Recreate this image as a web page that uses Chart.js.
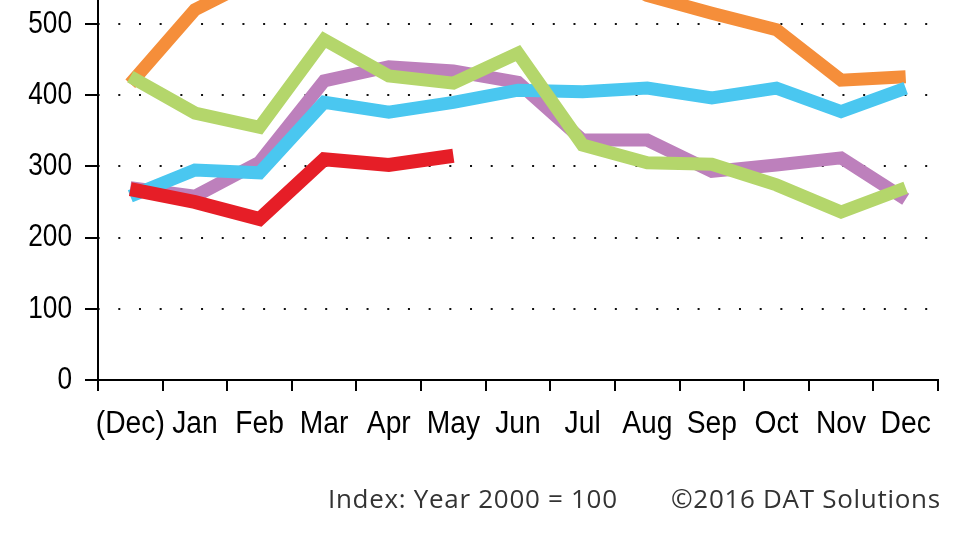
<!DOCTYPE html>
<html><head><meta charset="utf-8">
<script src="https://cdn.jsdelivr.net/npm/chart.js@4"></script>
<style>
html,body{margin:0;padding:0;background:#fff;}
#wrap{position:relative;width:980px;height:552px;overflow:hidden;background:#fff;}
#c{position:absolute;left:0;top:0;}
.note{position:absolute;top:485px;font-family:'Open Sans','Noto Sans',sans-serif;font-size:26px;color:#333;letter-spacing:0.7px;white-space:nowrap;line-height:26px;}
</style></head><body>
<div id="wrap"><canvas id="c" width="980" height="552"></canvas>
<div class="note" style="left:328px">Index: Year 2000 = 100</div>
<div class="note" style="left:671px">©2016 DAT Solutions</div>
</div>
<script>
const categories = ['(Dec)','Jan','Feb','Mar','Apr','May','Jun','Jul','Aug','Sep','Oct','Nov','Dec'];
const yTicks = [0, 100, 200, 300, 400, 500];
const seriesOrange = [416, 520, 566, 600, 620, 610, 625, 590, 540, 515, 492, 421, 426];
const seriesPurple = [270, 258, 306, 420, 440, 434, 418, 337, 337, 293, 302, 312, 254];
const seriesBlue   = [258, 295, 291, 390, 376, 390, 407, 405, 410, 396, 410, 377, 410];
const seriesRed    = [268, 250, 226, 310, 302, 315, null, null, null, null, null, null, null];
const seriesGreen  = [426, 375, 355, 478, 427, 417, 459, 330, 305, 303, 274, 236, 270];

const fam = "'Liberation Sans',Arial,sans-serif";

// condensed tick lettering (the reference uses a narrow sans face)
const canvas = document.getElementById('c');
const ctx2d = canvas.getContext('2d');
const nativeFillText = ctx2d.fillText;
ctx2d.fillText = function (text, x, y, maxWidth) {
  const sx = this.textAlign === 'right' ? 0.82 : 0.91;
  this.save();
  this.translate(x, y);
  this.scale(sx, 1);
  if (maxWidth === undefined) nativeFillText.call(this, text, 0, 0);
  else nativeFillText.call(this, text, 0, 0, maxWidth);
  this.restore();
};

function ds(data, color, width) {
  return {data, borderColor: color, backgroundColor: color, borderWidth: width,
    pointRadius: 0, pointHoverRadius: 0, tension: 0, fill: false, spanGaps: false,
    borderCapStyle: 'butt', borderJoinStyle: 'miter'};
}

new Chart(canvas, {
  type: 'line',
  data: {
    labels: categories,
    datasets: [
      ds(seriesGreen, '#b4d66b', 13),
      ds(seriesRed, '#e61e27', 14),
      ds(seriesBlue, '#4ac7f0', 13),
      ds(seriesPurple, '#bd80bc', 13),
      ds(seriesOrange, '#f58e3a', 13)
    ]
  },
  options: {
    responsive: false,
    devicePixelRatio: 1,
    animation: false,
    events: [],
    layout: {padding: {left: 0, top: 0, right: 42, bottom: 0}},
    plugins: {legend: {display: false}, tooltip: {enabled: false}, title: {display: false}},
    scales: {
      x: {
        type: 'category',
        offset: true,
        grid: {display: true, drawOnChartArea: false, drawTicks: true, offset: true,
               tickLength: 11, tickWidth: 2, tickColor: '#000', color: '#000', lineWidth: 2},
        border: {display: true, color: '#000', width: 2},
        ticks: {color: '#000', font: {family: fam, size: 31}, padding: 15, maxRotation: 0, minRotation: 0, autoSkip: false},
        afterFit: (s) => { s.height = 172; s.paddingLeft = 0; s.paddingRight = 0; }
      },
      y: {
        min: 0,
        max: 533.7,
        afterBuildTicks: (s) => { s.ticks = yTicks.map(v => ({value: v})); },
        grid: {display: true, drawOnChartArea: true, drawTicks: true, color: '#111', lineWidth: 2,
               tickLength: 13, tickWidth: 2, tickColor: '#000', tickBorderDash: []},
        border: {display: true, color: '#000', width: 2, dash: [2, 18.69], dashOffset: 1.4},
        ticks: {color: '#000', font: {family: fam, size: 32}, padding: 13, includeBounds: false},
        afterFit: (s) => { s.width = 98; s.paddingTop = 0; s.paddingBottom = 0; }
      }
    }
  }
});
</script>
</body></html>
